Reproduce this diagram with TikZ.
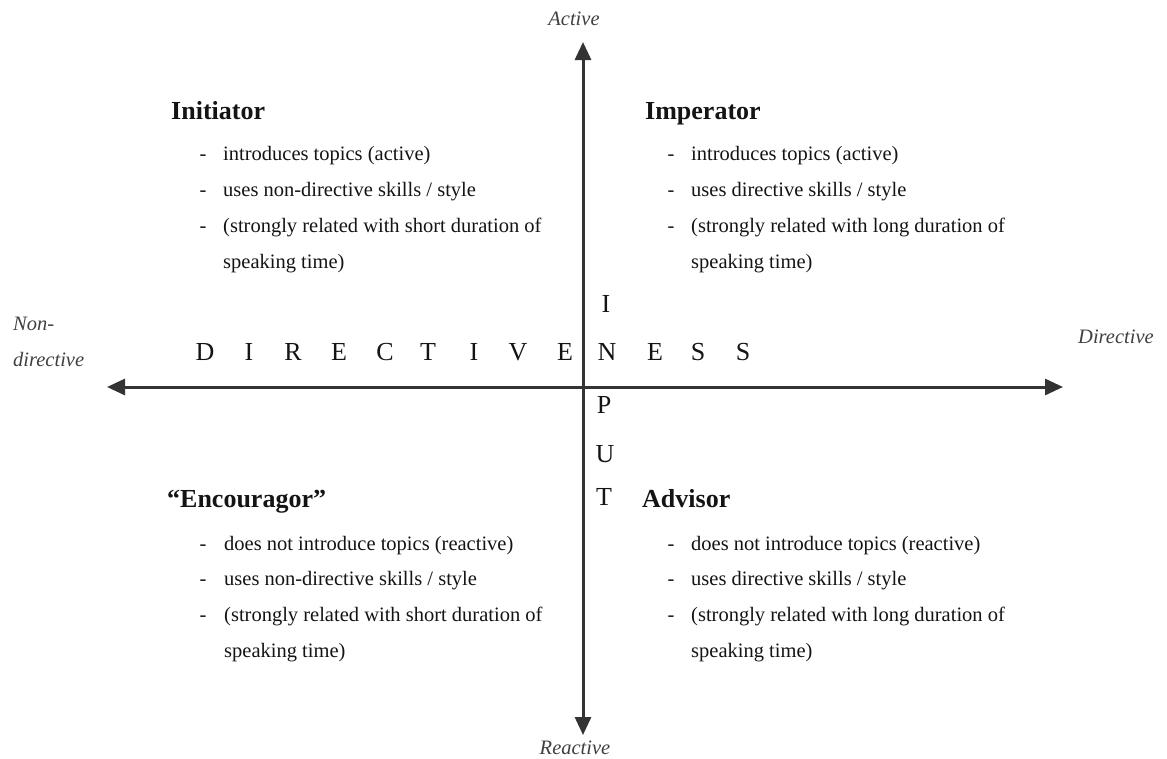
\documentclass[tikz,border=0pt]{standalone}
\usepackage{fontspec}
\setmainfont{Liberation Serif}
\usetikzlibrary{arrows.meta}
\definecolor{ink}{gray}{0.08}
\tikzset{
  axis/.style={line width=3pt, draw=black!80, arrows={Triangle[length=18pt,width=16pt]-Triangle[length=18pt,width=16pt]}},
  axislabel/.style={font=\fontsize{20.5}{24}\selectfont\itshape, text=black!75, inner sep=0pt},
  title/.style={font=\fontsize{26}{30}\selectfont\bfseries, text=ink, anchor=base west, inner sep=0pt},
  item/.style={font=\fontsize{20.5}{24}\selectfont, text=ink, anchor=base west, inner sep=0pt},
  dashmark/.style={font=\fontsize{20.5}{24}\selectfont, text=ink, anchor=base, inner sep=0pt},
  letter/.style={font=\fontsize{26}{30}\selectfont, text=ink, anchor=base, inner sep=0pt}
}
\begin{document}
\begin{tikzpicture}[x=1pt,y=-1pt]
\useasboundingbox (0,0) rectangle (1167,758);
% axes
\coordinate (L) at (107,387);
\coordinate (R) at (1063,387);
\coordinate (T) at (583,42);
\coordinate (B) at (583,735);
\draw[axis] (L) -- (R);
\draw[axis] (B) -- (T);
% axis labels
\node[axislabel, anchor=base] (active) at (574,25) {Active};
\node[axislabel, anchor=base] (reactive) at (575,754) {Reactive};
\node[axislabel, anchor=base west] (nondir1) at (13,330) {Non-};
\node[axislabel, anchor=base west] (nondir2) at (13,366) {directive};
\node[axislabel, anchor=base west] (dir) at (1078,343) {Directive};
% DIRECTIVENESS
\node[letter] (d1) at (205,360) {D};
\node[letter] (d2) at (249,360) {I};
\node[letter] (d3) at (293,360) {R};
\node[letter] (d4) at (339,360) {E};
\node[letter] (d5) at (385,360) {C};
\node[letter] (d6) at (428,360) {T};
\node[letter] (d7) at (474,360) {I};
\node[letter] (d8) at (518,360) {V};
\node[letter] (d9) at (565,360) {E};
\node[letter] (d10) at (607,360) {N};
\node[letter] (d11) at (655,360) {E};
\node[letter] (d12) at (698,360) {S};
\node[letter] (d13) at (743,360) {S};
% INPUT
\node[letter] (i1) at (606,312) {I};
\node[letter] (i3) at (604,413) {P};
\node[letter] (i4) at (605,462) {U};
\node[letter] (i5) at (604,505) {T};
% Initiator
\node[title] (initiator) at (171,119) {Initiator};
\node[dashmark] (a1d) at (203,160) {-};
\node[item] (a1) at (223,160) {introduces topics (active)};
\node[dashmark] (a2d) at (203,196) {-};
\node[item] (a2) at (223,196) {uses non-directive skills / style};
\node[dashmark] (a3d) at (203,232) {-};
\node[item] (a3) at (223,232) {(strongly related with short duration of};
\node[item] (a4) at (223,268) {speaking time)};
% Imperator
\node[title] (imperator) at (645,119) {Imperator};
\node[dashmark] (b1d) at (671,160) {-};
\node[item] (b1) at (691,160) {introduces topics (active)};
\node[dashmark] (b2d) at (671,196) {-};
\node[item] (b2) at (691,196) {uses directive skills / style};
\node[dashmark] (b3d) at (671,232) {-};
\node[item] (b3) at (691,232) {(strongly related with long duration of};
\node[item] (b4) at (691,268) {speaking time)};
% Encouragor
\node[title] (encouragor) at (167,507) {“Encouragor”};
\node[dashmark] (c1d) at (203,550) {-};
\node[item] (c1) at (224,550) {does not introduce topics (reactive)};
\node[dashmark] (c2d) at (203,585) {-};
\node[item] (c2) at (224,585) {uses non-directive skills / style};
\node[dashmark] (c3d) at (203,621) {-};
\node[item] (c3) at (224,621) {(strongly related with short duration of};
\node[item] (c4) at (224,657) {speaking time)};
% Advisor
\node[title] (advisor) at (642,507) {Advisor};
\node[dashmark] (e1d) at (671,550) {-};
\node[item] (e1) at (691,550) {does not introduce topics (reactive)};
\node[dashmark] (e2d) at (671,585) {-};
\node[item] (e2) at (691,585) {uses directive skills / style};
\node[dashmark] (e3d) at (671,621) {-};
\node[item] (e3) at (691,621) {(strongly related with long duration of};
\node[item] (e4) at (691,657) {speaking time)};
\end{tikzpicture}
\end{document}
